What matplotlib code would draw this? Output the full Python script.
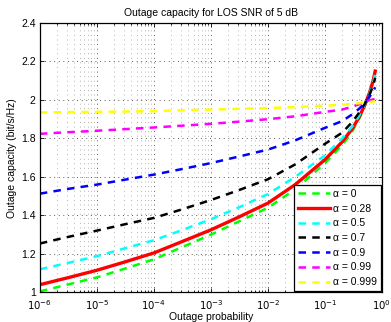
import matplotlib
matplotlib.use("Agg")
import matplotlib.pyplot as plt
import numpy as np
from matplotlib.ticker import LogLocator, NullFormatter, FixedLocator

plt.rcParams['font.family'] = ['Liberation Sans', 'DejaVu Sans']

outage_prob = [1e-6, 3e-6, 1e-5, 3e-5, 1e-4, 3e-4, 1e-3, 3e-3, 1e-2, 3e-2,
               0.1, 0.2, 0.3, 0.4, 0.5, 0.6, 0.7, 0.76]

cap_a0 = [1.005, 1.040, 1.078, 1.122, 1.172, 1.233, 1.300, 1.367, 1.440, 1.535,
          1.672, 1.765, 1.835, 1.905, 1.970, 2.030, 2.100, 2.150]
cap_a028 = [1.040, 1.075, 1.115, 1.157, 1.205, 1.262, 1.325, 1.390, 1.464, 1.560,
            1.690, 1.782, 1.850, 1.912, 1.975, 2.035, 2.100, 2.150]
cap_a05 = [1.120, 1.152, 1.188, 1.228, 1.271, 1.322, 1.380, 1.440, 1.511, 1.600,
           1.712, 1.800, 1.862, 1.920, 1.978, 2.030, 2.090, 2.135]
cap_a07 = [1.254, 1.287, 1.321, 1.353, 1.387, 1.430, 1.480, 1.530, 1.588, 1.665,
           1.772, 1.830, 1.885, 1.935, 1.980, 2.025, 2.075, 2.115]
cap_a09 = [1.513, 1.537, 1.560, 1.585, 1.612, 1.640, 1.672, 1.705, 1.742, 1.790,
           1.855, 1.890, 1.925, 1.955, 1.985, 2.015, 2.045, 2.066]
cap_a099 = [1.824, 1.832, 1.840, 1.848, 1.857, 1.866, 1.876, 1.887, 1.900, 1.915,
            1.938, 1.950, 1.965, 1.978, 1.990, 1.998, 2.003, 2.005]
cap_a0999 = [1.935, 1.937, 1.938, 1.940, 1.942, 1.946, 1.950, 1.954, 1.958, 1.963,
             1.970, 1.975, 1.979, 1.983, 1.986, 1.989, 1.992, 1.993]

labels = ['α = 0', 'α = 0.28', 'α = 0.5', 'α = 0.7', 'α = 0.9', 'α = 0.99', 'α = 0.999']
series = [cap_a0, cap_a028, cap_a05, cap_a07, cap_a09, cap_a099, cap_a0999]
colors = ['#00ff00', '#ff0000', '#00ffff', '#000000', '#0000ff', '#ff00ff', '#ffff00']
styles = ['--', '-', '--', '--', '--', '--', '--']
widths = [1.8, 2.4, 1.8, 1.8, 1.8, 1.8, 1.8]

x_ticks = [1e-6, 1e-5, 1e-4, 1e-3, 1e-2, 1e-1, 1]
x_ticklabels = [r'$10^{-6}$', r'$10^{-5}$', r'$10^{-4}$', r'$10^{-3}$',
                r'$10^{-2}$', r'$10^{-1}$', r'$10^{0}$']
y_ticks = [1, 1.2, 1.4, 1.6, 1.8, 2, 2.2, 2.4]
y_ticklabels = ['1', '1.2', '1.4', '1.6', '1.8', '2', '2.2', '2.4']

fig = plt.figure(figsize=(3.91, 3.22), dpi=100)
ax = fig.add_axes([0.102, 0.092, 0.875, 0.8366])

for y, lab, c, ls, lw in zip(series, labels, colors, styles, widths):
    if ls == '--':
        ax.plot(outage_prob, y, color=c, linestyle=ls, linewidth=lw, label=lab,
                dashes=(3, 2.5))
    else:
        ax.plot(outage_prob, y, color=c, linestyle=ls, linewidth=lw, label=lab)

ax.set_xscale('log')
ax.set_xlim(1e-6, 1)
ax.set_ylim(1, 2.4)
ax.set_yticks(y_ticks)
ax.set_yticklabels(y_ticklabels)
ax.set_xticks(x_ticks)
ax.set_xticklabels(x_ticklabels)
minor = [m * 10.0 ** e for e in range(-6, 0) for m in range(2, 10)]
ax.xaxis.set_minor_locator(FixedLocator(minor))
ax.xaxis.set_minor_formatter(NullFormatter())

ax.grid(True, which='major', color='#222222', linestyle=(0, (1, 4.5)), linewidth=0.6)
ax.grid(True, which='minor', axis='x', color='#999999', linestyle=(0, (1, 4.5)), linewidth=0.6)
ax.tick_params(which='both', direction='in', top=True, right=True, labelsize=7.5, width=0.6)
ax.tick_params(which='major', length=3)
ax.tick_params(which='minor', length=1.5)
ax.tick_params(axis='x', which='major', pad=4, labelsize=7.3)
ax.tick_params(axis='y', which='major', pad=3)
for sp in ax.spines.values():
    sp.set_linewidth(0.9)

ax.set_title('Outage capacity for LOS SNR of 5 dB', fontsize=7.5, pad=5)
ax.set_xlabel('Outage probability', fontsize=7.5, labelpad=0)
ax.set_ylabel('Outage capacity (bit/s/Hz)', fontsize=7.5, labelpad=3)

leg = ax.legend(loc='lower right', fontsize=7.5, frameon=True, fancybox=False,
                edgecolor='black', framealpha=1, borderaxespad=0.1,
                handlelength=3.0, handletextpad=0.3, labelspacing=0.45,
                borderpad=0.4)
leg.get_frame().set_linewidth(0.9)

fig.savefig('out.png', dpi=100)
